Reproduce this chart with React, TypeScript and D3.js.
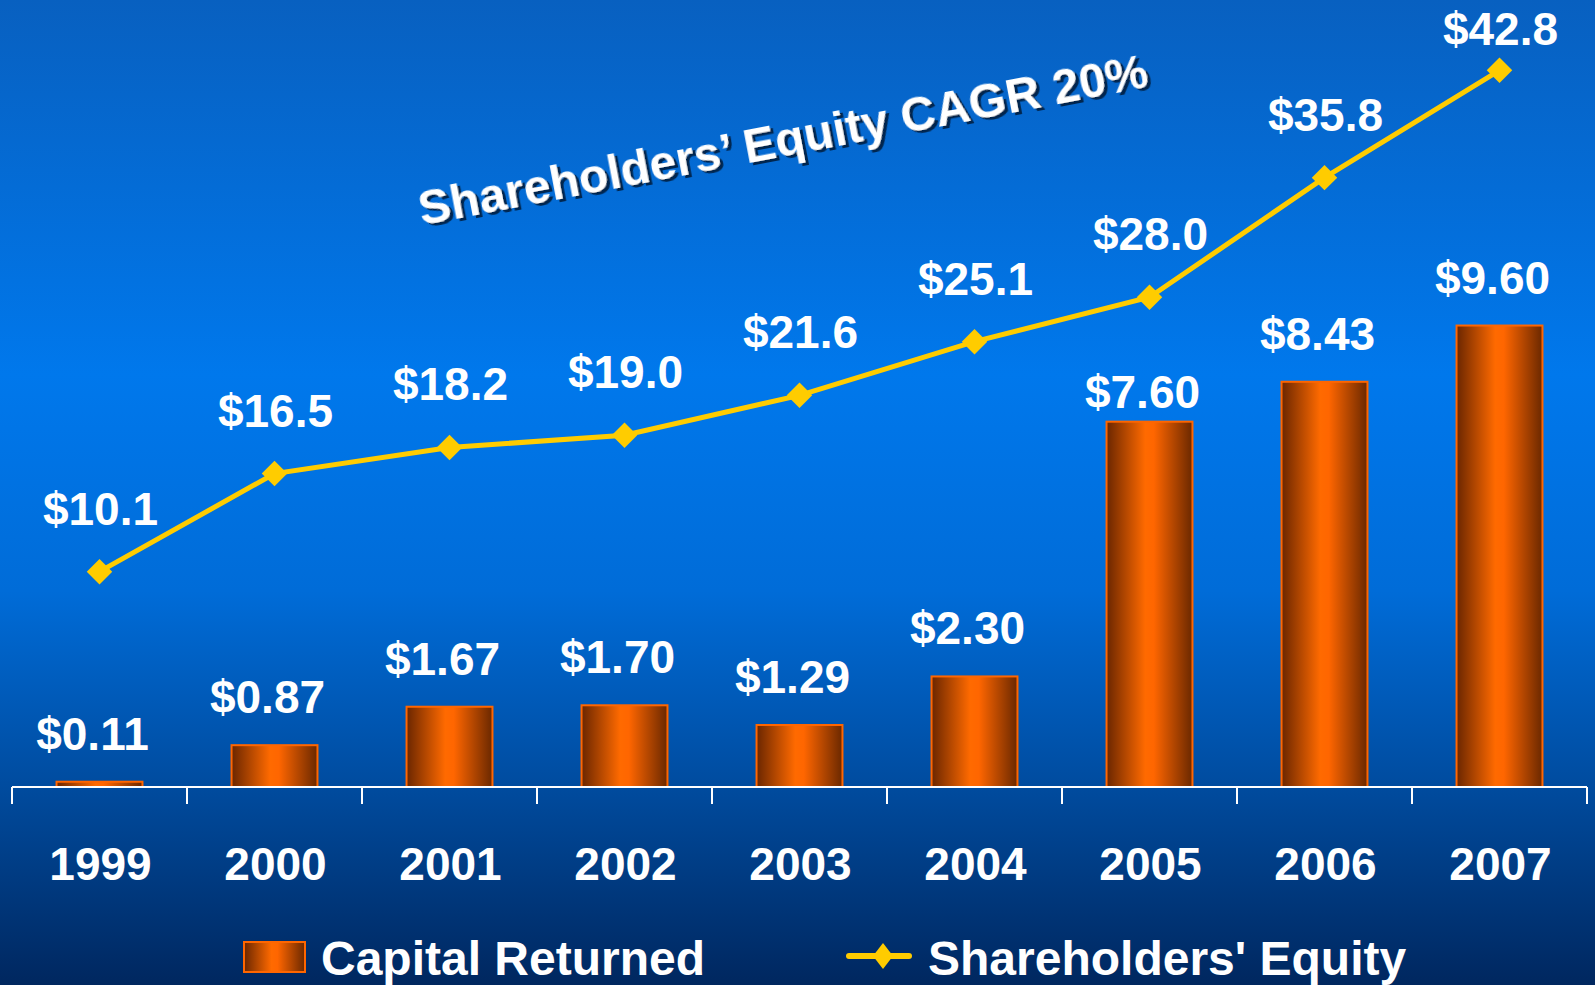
import React from 'react';
import * as d3 from 'd3';

const years = ['1999', '2000', '2001', '2002', '2003', '2004', '2005', '2006', '2007'];
const capitalReturned = [0.11, 0.87, 1.67, 1.7, 1.29, 2.3, 7.6, 8.43, 9.6];
const capitalLabels = ['$0.11', '$0.87', '$1.67', '$1.70', '$1.29', '$2.30', '$7.60', '$8.43', '$9.60'];
const equity = [10.1, 16.5, 18.2, 19.0, 21.6, 25.1, 28.0, 35.8, 42.8];
const equityLabels = ['$10.1', '$16.5', '$18.2', '$19.0', '$21.6', '$25.1', '$28.0', '$35.8', '$42.8'];
const title = 'Shareholders\u2019 Equity CAGR 20%';

const W = 1595;
const H = 985;
const FONT = '"Liberation Sans", Arial, Helvetica, sans-serif';

const App = () => {
  const axisY = 787;

  const x = d3
    .scaleBand<string>()
    .domain(years)
    .range([12, 1587])
    .paddingInner(0.509)
    .paddingOuter(0.2545);

  const yBar = d3.scaleLinear().domain([0, 10]).range([axisY, 306.3]);
  const yLine = d3.scaleLinear().domain([0, 45]).range([726.5, 36.6]);

  const cx = (i: number) => (x(years[i]) as number) + x.bandwidth() / 2;
  const gap = (x.step() - x.bandwidth()) / 2;
  const tickXs = years.map((y) => (x(y) as number) - gap).concat([1587]);

  const line = d3
    .line<number>()
    .x((_, i) => cx(i))
    .y((d) => yLine(d));

  // the 2005 label sits closer to its bar in the original
  const barLabelGap = (i: number) => (years[i] === '2005' ? 14 : 32);

  return (
    <svg
      width={W}
      height={H}
      style={{ position: 'absolute', left: 0, top: 0, display: 'block' }}
      fontFamily={FONT}
    >
      <defs>
        <linearGradient id="bg" x1="0" y1="0" x2="0" y2="1">
          <stop offset="0" stopColor="#0860c0" />
          <stop offset="0.38" stopColor="#0078ec" />
          <stop offset="0.6" stopColor="#006cd8" />
          <stop offset="0.8" stopColor="#004b9e" />
          <stop offset="1" stopColor="#00275f" />
        </linearGradient>
        <linearGradient id="bar" x1="0" y1="0" x2="1" y2="0">
          <stop offset="0" stopColor="#6a2600" />
          <stop offset="0.45" stopColor="#ff6a00" />
          <stop offset="0.55" stopColor="#ff6600" />
          <stop offset="1" stopColor="#6a2800" />
        </linearGradient>
        <filter id="shadow" x="-5%" y="-20%" width="110%" height="140%">
          <feDropShadow dx="3" dy="3" stdDeviation="0.5" floodColor="#001a40" floodOpacity="0.9" />
        </filter>
      </defs>

      <rect x={0} y={0} width={W} height={H} fill="url(#bg)" />

      {/* bars */}
      {capitalReturned.map((v, i) => (
        <rect
          key={'b' + i}
          x={x(years[i])}
          y={yBar(v)}
          width={x.bandwidth()}
          height={axisY - yBar(v)}
          fill="url(#bar)"
          stroke="#ff6600"
          strokeWidth={2}
        />
      ))}

      {/* axis */}
      <line x1={12} x2={1587} y1={axisY} y2={axisY} stroke="#fff" strokeWidth={2} />
      {tickXs.map((tx, i) => (
        <line key={'t' + i} x1={tx} x2={tx} y1={axisY} y2={axisY + 17} stroke="#fff" strokeWidth={2} />
      ))}

      {/* year labels */}
      {years.map((yr, i) => (
        <text key={'y' + i} x={cx(i) + 1} y={880} textAnchor="middle" fill="#fff" fontSize={46} fontWeight="bold">
          {yr}
        </text>
      ))}

      {/* bar value labels */}
      {capitalReturned.map((v, i) => (
        <text
          key={'bl' + i}
          x={cx(i) - 7}
          y={yBar(v) - barLabelGap(i)}
          textAnchor="middle"
          fill="#fff"
          fontSize={46}
          fontWeight="bold"
        >
          {capitalLabels[i]}
        </text>
      ))}

      {/* equity line */}
      <path d={line(equity) as string} fill="none" stroke="#ffcc00" strokeWidth={5} />
      {equity.map((v, i) => (
        <rect
          key={'m' + i}
          x={-9}
          y={-9}
          width={18}
          height={18}
          fill="#ffcc00"
          transform={`translate(${cx(i)},${yLine(v)}) rotate(45)`}
        />
      ))}
      {equity.map((v, i) => (
        <text
          key={'el' + i}
          x={cx(i) + 1}
          y={Math.max(yLine(v) - 47, 45)}
          textAnchor="middle"
          fill="#fff"
          fontSize={46}
          fontWeight="bold"
        >
          {equityLabels[i]}
        </text>
      ))}

      {/* rotated annotation */}
      <text
        x={0}
        y={0}
        transform="translate(786,156) rotate(-10.8)"
        textAnchor="middle"
        fill="#fff"
        fontSize={48}
        fontWeight="bold"
        filter="url(#shadow)"
      >
        {title}
      </text>

      {/* legend */}
      <rect x={244} y={942} width={61} height={30} fill="url(#bar)" stroke="#ff6600" strokeWidth={2} />
      <text x={321} y={975} fill="#fff" fontSize={48} fontWeight="bold">
        Capital Returned
      </text>
      <line x1={849} x2={909} y1={956} y2={956} stroke="#ffcc00" strokeWidth={6} strokeLinecap="round" />
      <path d="M883,943 L893,956 L883,969 L873,956 Z" fill="#ffcc00" />
      <text x={928} y={975} fill="#fff" fontSize={48} fontWeight="bold">
        Shareholders' Equity
      </text>
    </svg>
  );
};

export default App;
